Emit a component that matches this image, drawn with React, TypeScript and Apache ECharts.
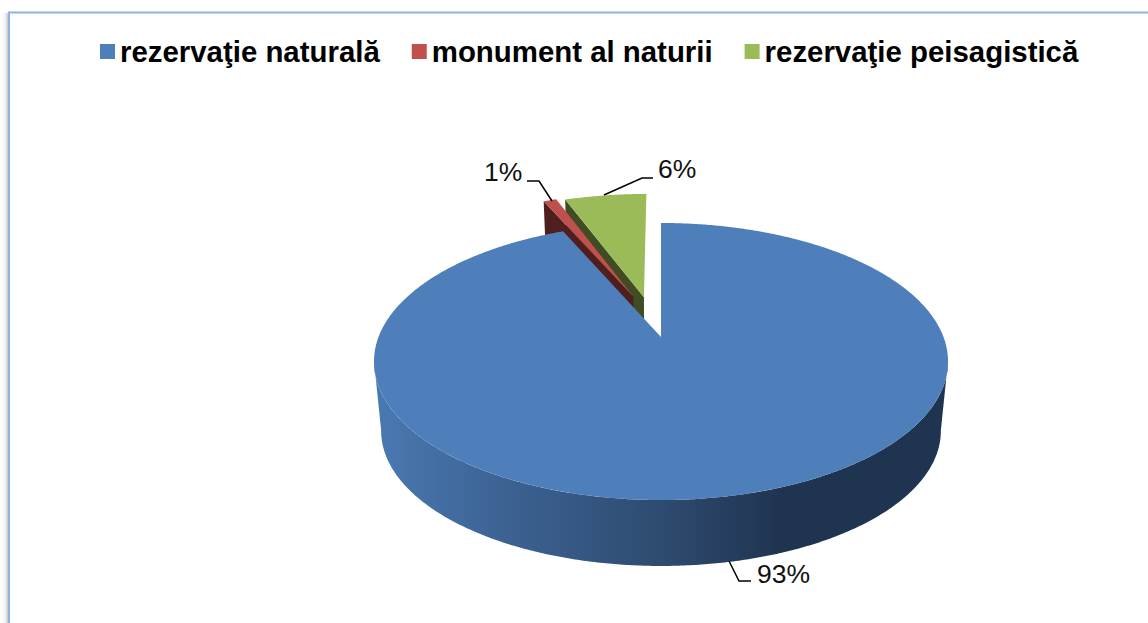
import React, { useEffect, useRef } from "react";
import * as echarts from "echarts";

const categories = ["rezervaţie naturală", "monument al naturii", "rezervaţie peisagistică"];
const values = [93.4, 0.9, 5.7];
const topColors = ["#4f7fbb", "#c0504d", "#9bbb59"];
const cutColors = ["#1f3552", "#4f1f1e", "#3f4c24"];

// perspective model of the pie disk
const APEX = { x: 661, y: 337 };
const BOTTOM = { x: 661, y: 407, scale: 0.975 };
const W = 282.5;
const H = 134.2;
const P = 0.1769;
const explode = [0, 0.333, 0.32];
const explodeDeg = [0, 342, 348.5];
const leaders = [
  { pts: [[729, 561], [739, 581], [751, 581]], tx: 757, ty: 574 },
  { pts: [[552, 201], [539, 181], [527, 181]], tx: 484, ty: 172 },
  { pts: [[604, 195], [642, 178], [653, 178]], tx: 658, ty: 169 },
];

const rad = (d: number) => (d * Math.PI) / 180;
function project(u: number, v: number, bottom: boolean): number[] {
  const d = 1 / (1 + P * v);
  const x = W * u * d;
  const y = -H * v * d;
  return bottom
    ? [BOTTOM.x + BOTTOM.scale * x, BOTTOM.y + BOTTOM.scale * y]
    : [APEX.x + x, APEX.y + y];
}

function sliceAngles(i: number): [number, number] {
  const total = values.reduce((a, b) => a + b, 0);
  const before = values.slice(0, i).reduce((a, b) => a + b, 0);
  return [(before / total) * 360, ((before + values[i]) / total) * 360];
}

function rimPoint(i: number, deg: number, bottom: boolean) {
  const su = explode[i] * Math.sin(rad(explodeDeg[i]));
  const sv = explode[i] * Math.cos(rad(explodeDeg[i]));
  return project(su + Math.sin(rad(deg)), sv + Math.cos(rad(deg)), bottom);
}
function apexPoint(i: number, bottom: boolean) {
  const su = explode[i] * Math.sin(rad(explodeDeg[i]));
  const sv = explode[i] * Math.cos(rad(explodeDeg[i]));
  return project(su, sv, bottom);
}

function renderSlice(params: any) {
  const i = params.seriesIndex;
  const [a0, a1] = sliceAngles(i);
  const children: any[] = [];
  const rim: number[][] = [];
  const n = Math.max(4, Math.ceil((a1 - a0) * 2));
  for (let k = 0; k <= n; k++) rim.push(rimPoint(i, a0 + ((a1 - a0) * k) / n, false));

  if (i === 0) {
    const top: number[][] = [];
    const bot: number[][] = [];
    for (let d = 100; d <= 260; d += 0.5) {
      top.push(rimPoint(i, d, false));
      bot.unshift(rimPoint(i, d, true));
    }
    children.push({
      type: "polygon",
      shape: { points: [...top, ...bot] },
      style: {
        fill: new echarts.graphic.LinearGradient(1, 0, 0, 0, [
          { offset: 0, color: "#1f3450" },
          { offset: 0.29, color: "#1f3450" },
          { offset: 0.5, color: "#2e4b70" },
          { offset: 0.75, color: "#3b6090" },
          { offset: 1, color: "#4a79b2" },
        ]),
      },
    });
  } else {
    children.push({
      type: "polygon",
      shape: {
        points: [apexPoint(i, false), rim[0], rimPoint(i, a0, true), apexPoint(i, true)],
      },
      style: { fill: cutColors[i] },
    });
  }
  children.push({
    type: "polygon",
    shape: { points: [apexPoint(i, false), ...rim] },
    style: { fill: topColors[i] },
  });
  const l = leaders[i];
  children.push({
    type: "polyline",
    shape: { points: l.pts },
    style: { stroke: "#000", lineWidth: 1.5, fill: "none" },
  });
  children.push({
    type: "text",
    style: {
      text: `${Math.round(values[i])}%`,
      x: l.tx,
      y: l.ty,
      fill: "#111",
      font: '26.5px "Liberation Sans", Arial, sans-serif',
      textVerticalAlign: "middle",
      verticalAlign: "middle",
    },
  });
  return { type: "group", children };
}

export default function App() {
  const ref = useRef<HTMLDivElement>(null);
  useEffect(() => {
    const chart = echarts.init(ref.current!, undefined, { renderer: "svg" });
    chart.setOption({
      animation: false,
      backgroundColor: "#ffffff",
      legend: {
        data: categories,
        left: 100,
        top: 37,
        padding: 0,
        itemGap: 32,
        itemWidth: 15,
        itemHeight: 15,
        icon: "rect",
        selectedMode: false,
        textStyle: {
          color: "#000",
          fontFamily: '"Liberation Sans", Arial, sans-serif',
          fontWeight: "bold",
          fontSize: 29.4,
        },
      },
      graphic: [
        {
          type: "rect",
          silent: true,
          z: -2,
          shape: { x: 2, y: 13, width: 6, height: 610 },
          style: {
            fill: new echarts.graphic.LinearGradient(0, 0, 1, 0, [
              { offset: 0, color: "#ffffff" },
              { offset: 0.6, color: "#eeeeee" },
              { offset: 1, color: "#c4c4c4" },
            ]),
          },
        },
        {
          type: "polyline",
          silent: true,
          z: -1,
          shape: { points: [[9, 623], [9, 12.5], [1148, 12.5]] },
          style: { stroke: "#8db3e2", lineWidth: 2, fill: "none" },
        },
      ],
      series: categories.map((name, i) => ({
        type: "custom",
        name,
        coordinateSystem: "none",
        silent: true,
        z: [5, 4, 3][i],
        itemStyle: { color: topColors[i] },
        data: [[values[i]]],
        renderItem: renderSlice,
      })),
    });
    return () => chart.dispose();
  }, []);
  return (
    <div
      ref={ref}
      style={{ position: "fixed", left: 0, top: 0, width: 1148, height: 623 }}
    />
  );
}
